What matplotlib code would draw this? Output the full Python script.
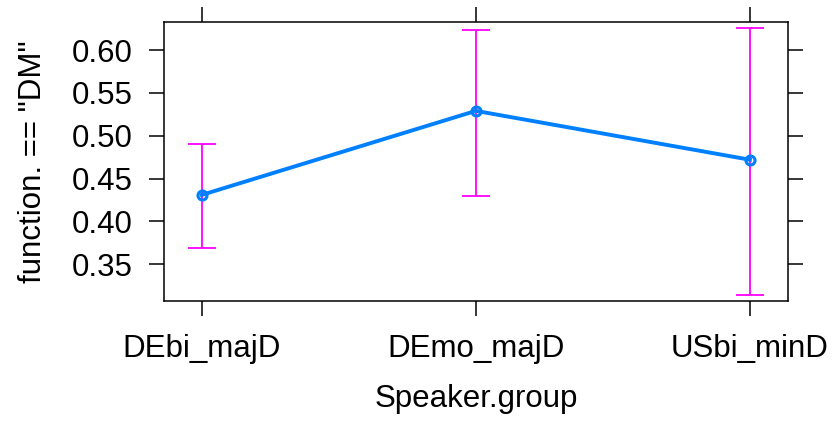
import numpy as np
import matplotlib.pyplot as plt

# effect of speaker group on proportion of DM function
groups = ["DEbi_majD", "DEmo_majD", "USbi_minD"]
fit = [0.431, 0.529, 0.472]
lower = [0.369, 0.430, 0.314]
upper = [0.490, 0.623, 0.626]
yticks = [0.35, 0.40, 0.45, 0.50, 0.55, 0.60]

plt.rcParams['font.family'] = ['Liberation Sans', 'DejaVu Sans']

fig = plt.figure(figsize=(8.33, 4.21), dpi=100)
ax = fig.add_axes([0.1969, 0.2850, 0.7494, 0.6620])

x = np.arange(1, len(groups) + 1)
fit = np.array(fit)
lower = np.array(lower)
upper = np.array(upper)

ax.errorbar(x, fit, yerr=[fit - lower, upper - fit], fmt='none',
            ecolor='#ff00ff', elinewidth=1.3, capsize=10, capthick=1.3, zorder=2)
ax.plot(x, fit, '-o', color='#0080ff', lw=2.8, ms=6.5, mfc='none',
        mew=2.2, zorder=3)

ax.set_xlim(0.862, 3.14)
ax.set_ylim(0.3072, 0.6323)
ax.set_xticks(x)
ax.set_xticklabels(groups)
ax.set_yticks(yticks)
ax.set_yticklabels(['%.2f' % v for v in yticks])

ax.tick_params(axis='both', direction='out', length=10.5, width=1.1,
               labelsize=22.5, color='black')
ax.tick_params(axis='x', top=True, bottom=True, pad=13)
ax.tick_params(axis='y', left=True, right=True, pad=12)
for s in ax.spines.values():
    s.set_linewidth(1.1)
    s.set_color('black')

ax.set_xlabel('Speaker.group', fontsize=22.5, labelpad=15)
ax.set_ylabel('function. == "DM"', fontsize=22.5, labelpad=17)

fig.savefig('out.png', dpi=100)
